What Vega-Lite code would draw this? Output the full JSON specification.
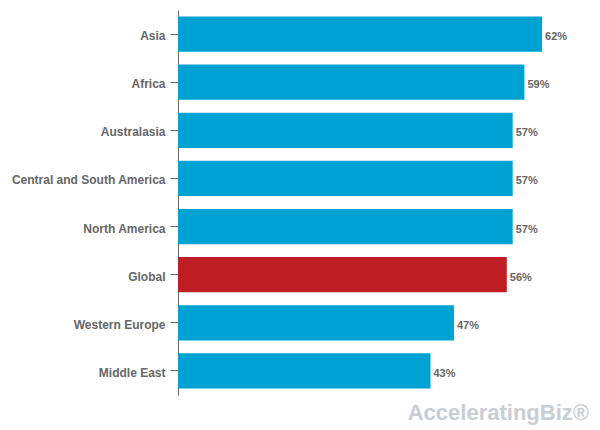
{
  "$schema": "https://vega.github.io/schema/vega-lite/v6.json",
  "autosize": {"type": "none"},
  "width": 411,
  "height": 385,
  "padding": {"left": 178, "top": 10, "right": 11, "bottom": 35},
  "background": "white",
  "config": {"view": {"stroke": null}, "font": "Liberation Sans"},
  "title": {
    "text": "AcceleratingBiz®",
    "orient": "bottom",
    "anchor": "end",
    "offset": 8,
    "fontSize": 22,
    "fontWeight": "bold",
    "color": "#c9cdd3",
    "font": "Liberation Sans"
  },
  "data": {
    "values": [
      {"region": "Asia", "value": 0.62, "global": false},
      {"region": "Africa", "value": 0.59, "global": false},
      {"region": "Australasia", "value": 0.57, "global": false},
      {"region": "Central and South America", "value": 0.57, "global": false},
      {"region": "North America", "value": 0.57, "global": false},
      {"region": "Global", "value": 0.56, "global": true},
      {"region": "Western Europe", "value": 0.47, "global": false},
      {"region": "Middle East", "value": 0.43, "global": false}
    ]
  },
  "encoding": {
    "y": {
      "field": "region",
      "type": "nominal",
      "sort": null,
      "scale": {"paddingInner": 0.27, "paddingOuter": 0.135},
      "axis": {
        "title": null,
        "domainColor": "#666666",
        "tickColor": "#666666",
        "tickSize": 8,
        "labelPadding": 5,
        "labelOffset": 2,
        "labelFontSize": 12,
        "labelFontWeight": "bold",
        "labelColor": "#666666",
        "labelFont": "Liberation Sans"
      }
    },
    "x": {
      "field": "value",
      "type": "quantitative",
      "scale": {"domain": [0, 0.7], "nice": false},
      "axis": null
    }
  },
  "layer": [
    {
      "mark": {"type": "bar"},
      "encoding": {
        "color": {
          "field": "global",
          "type": "nominal",
          "scale": {"domain": [false, true], "range": ["#00a2d4", "#be1e24"]},
          "legend": null
        }
      }
    },
    {
      "mark": {"type": "text", "align": "left", "dx": 3, "dy": 3, "fontSize": 11, "fontWeight": "bold", "color": "#666666"},
      "encoding": {
        "text": {"field": "value", "type": "quantitative", "format": ".0%"}
      }
    }
  ]
}
